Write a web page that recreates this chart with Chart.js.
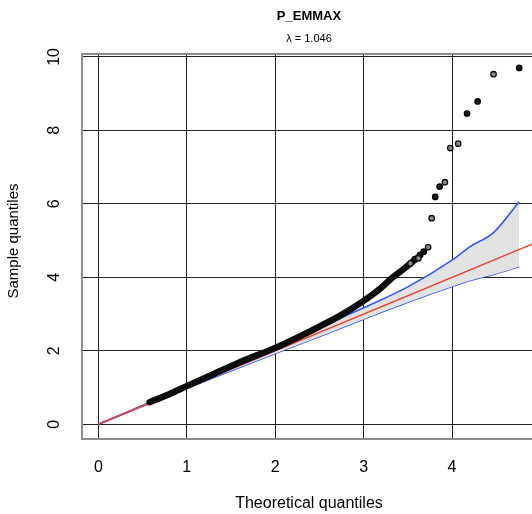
<!DOCTYPE html>
<html>
<head>
<meta charset="utf-8">
<title>P_EMMAX</title>
<script src="https://cdn.jsdelivr.net/npm/chart.js@4/dist/chart.umd.min.js"></script>
<style>
  html, body { margin: 0; padding: 0; background: #fff; overflow: hidden; }
  #wrap { width: 560px; height: 514px; }
</style>
</head>
<body>
<div id="wrap"><canvas id="qq" width="560" height="514"></canvas></div>
<script>
// axis ticks
const xTicks = [0, 1, 2, 3, 4];
const yTicks = [0, 2, 4, 6, 8, 10];

// bulk of the observed -log10(p), too dense to show single points
const denseX = [0.58, 0.80, 1.00, 1.25, 1.60, 2.00, 2.25, 2.50, 2.75, 3.00, 3.20, 3.33, 3.45, 3.55, 3.62];
const denseY = [0.60, 0.82, 1.04, 1.31, 1.69, 2.08, 2.36, 2.66, 2.98, 3.36, 3.72, 4.00, 4.22, 4.42, 4.55];

// upper tail, drawn as separate points
const solidX = [3.58, 3.64, 3.68, 3.81, 3.86, 4.17, 4.29, 4.76];
const solidY = [4.50, 4.61, 4.70, 6.19, 6.47, 8.46, 8.79, 9.70];
const ringX = [3.53, 3.62, 3.73, 3.77, 3.92, 3.98, 4.07, 4.47];
const ringY = [4.38, 4.52, 4.82, 5.61, 6.59, 7.52, 7.64, 9.53];

// 95% band around the expected line
const bandX = [0, 1, 2, 2.62, 3.0, 3.5, 4.0, 4.2, 4.47, 4.76];
const bandUpper = [0, 1.03, 2.07, 2.76, 3.17, 3.74, 4.47, 4.83, 5.22, 6.06];
const bandLower = [0, 0.98, 1.93, 2.50, 2.86, 3.32, 3.75, 3.91, 4.08, 4.29];

// y = x reference
const diagX = [0, 5.2];
const diagY = [0, 5.2];

const lambda = 1.046;

const pts = (xs, ys) => xs.map((x, i) => ({ x: x, y: ys[i] }));
const FONT = '"Liberation Sans", Arial, Helvetica, sans-serif';

// box round the plot region, plus the y axis title
const frame = {
  id: 'frame',
  afterDatasetsDraw(chart) {
    const { ctx, chartArea: a } = chart;
    ctx.save();
    ctx.strokeStyle = '#8c8c8c';
    ctx.lineWidth = 2;
    ctx.strokeRect(a.left, a.top, a.right - a.left, a.bottom - a.top);
    ctx.restore();
  },
  afterDraw(chart) {
    const { ctx } = chart;
    ctx.save();
    ctx.translate(14, 241);
    ctx.rotate(-Math.PI / 2);
    ctx.font = '15px ' + FONT;
    ctx.fillStyle = '#000';
    ctx.textAlign = 'center';
    ctx.textBaseline = 'middle';
    ctx.fillText('Sample quantiles', 0, 0);
    ctx.restore();
  }
};

new Chart(document.getElementById('qq'), {
  type: 'line',
  data: {
    datasets: [
      {
        label: 'ring',
        data: pts(ringX, ringY),
        showLine: false,
        pointRadius: 2.7,
        pointBorderWidth: 1.3,
        pointBorderColor: '#111',
        pointBackgroundColor: '#8a8a8a',
        order: 0
      },
      {
        label: 'solid',
        data: pts(solidX, solidY),
        showLine: false,
        pointRadius: 2.7,
        pointBorderWidth: 1.3,
        pointBorderColor: '#000',
        pointBackgroundColor: '#1a1a1a',
        order: 0
      },
      {
        label: 'dense',
        data: pts(denseX, denseY),
        borderColor: '#0c0c0c',
        borderWidth: 6.5,
        borderCapStyle: 'round',
        cubicInterpolationMode: 'monotone',
        pointRadius: 0,
        order: 1
      },
      {
        label: 'expected',
        data: pts(diagX, diagY),
        borderColor: '#e8452f',
        borderWidth: 1.5,
        pointRadius: 0,
        order: 2
      },
      {
        label: 'upper',
        data: pts(bandX, bandUpper),
        borderColor: '#3358f7',
        borderWidth: 1.6,
        backgroundColor: '#e2e2e2',
        fill: '+1',
        cubicInterpolationMode: 'monotone',
        pointRadius: 0,
        order: 3
      },
      {
        label: 'lower',
        data: pts(bandX, bandLower),
        borderColor: '#3358f7',
        borderWidth: 1.6,
        cubicInterpolationMode: 'monotone',
        pointRadius: 0,
        order: 3
      }
    ]
  },
  options: {
    responsive: false,
    animation: false,
    events: [],
    layout: { padding: { left: 0, right: 24, top: 0, bottom: 0 } },
    plugins: {
      legend: { display: false },
      tooltip: { enabled: false },
      title: {
        display: true,
        fullSize: false,
        text: 'P_EMMAX',
        color: '#000',
        font: { family: FONT, size: 13, weight: 'bold', lineHeight: '16px' },
        padding: { top: 8, bottom: 0 }
      },
      subtitle: {
        display: true,
        fullSize: false,
        text: 'λ = ' + lambda.toFixed(3),
        color: '#000',
        font: { family: FONT, size: 11, lineHeight: '12px' },
        padding: { top: 8.5, bottom: 9.5 }
      }
    },
    scales: {
      x: {
        type: 'linear',
        min: -0.185,
        max: 4.95,
        afterBuildTicks: s => { s.ticks = xTicks.map(v => ({ value: v })); },
        afterFit: s => { s.height = 75; },
        border: { display: false },
        grid: { color: '#222', lineWidth: 1, drawTicks: false },
        ticks: { color: '#000', padding: 19, font: { family: FONT, size: 16 } },
        title: {
          display: true,
          text: 'Theoretical quantiles',
          color: '#000',
          font: { family: FONT, size: 16 },
          padding: { top: 0, bottom: 1 }
        }
      },
      y: {
        type: 'linear',
        min: -0.4,
        max: 10.08,
        afterBuildTicks: s => { s.ticks = yTicks.map(v => ({ value: v })); },
        afterFit: s => { s.width = 82; },
        border: { display: false },
        grid: { color: '#222', lineWidth: 1, drawTicks: false },
        ticks: {
          color: '#000',
          padding: 19,
          minRotation: 90,
          maxRotation: 90,
          crossAlign: 'center',
          font: { family: FONT, size: 16 }
        }
      }
    }
  },
  plugins: [frame]
});
</script>
</body>
</html>
